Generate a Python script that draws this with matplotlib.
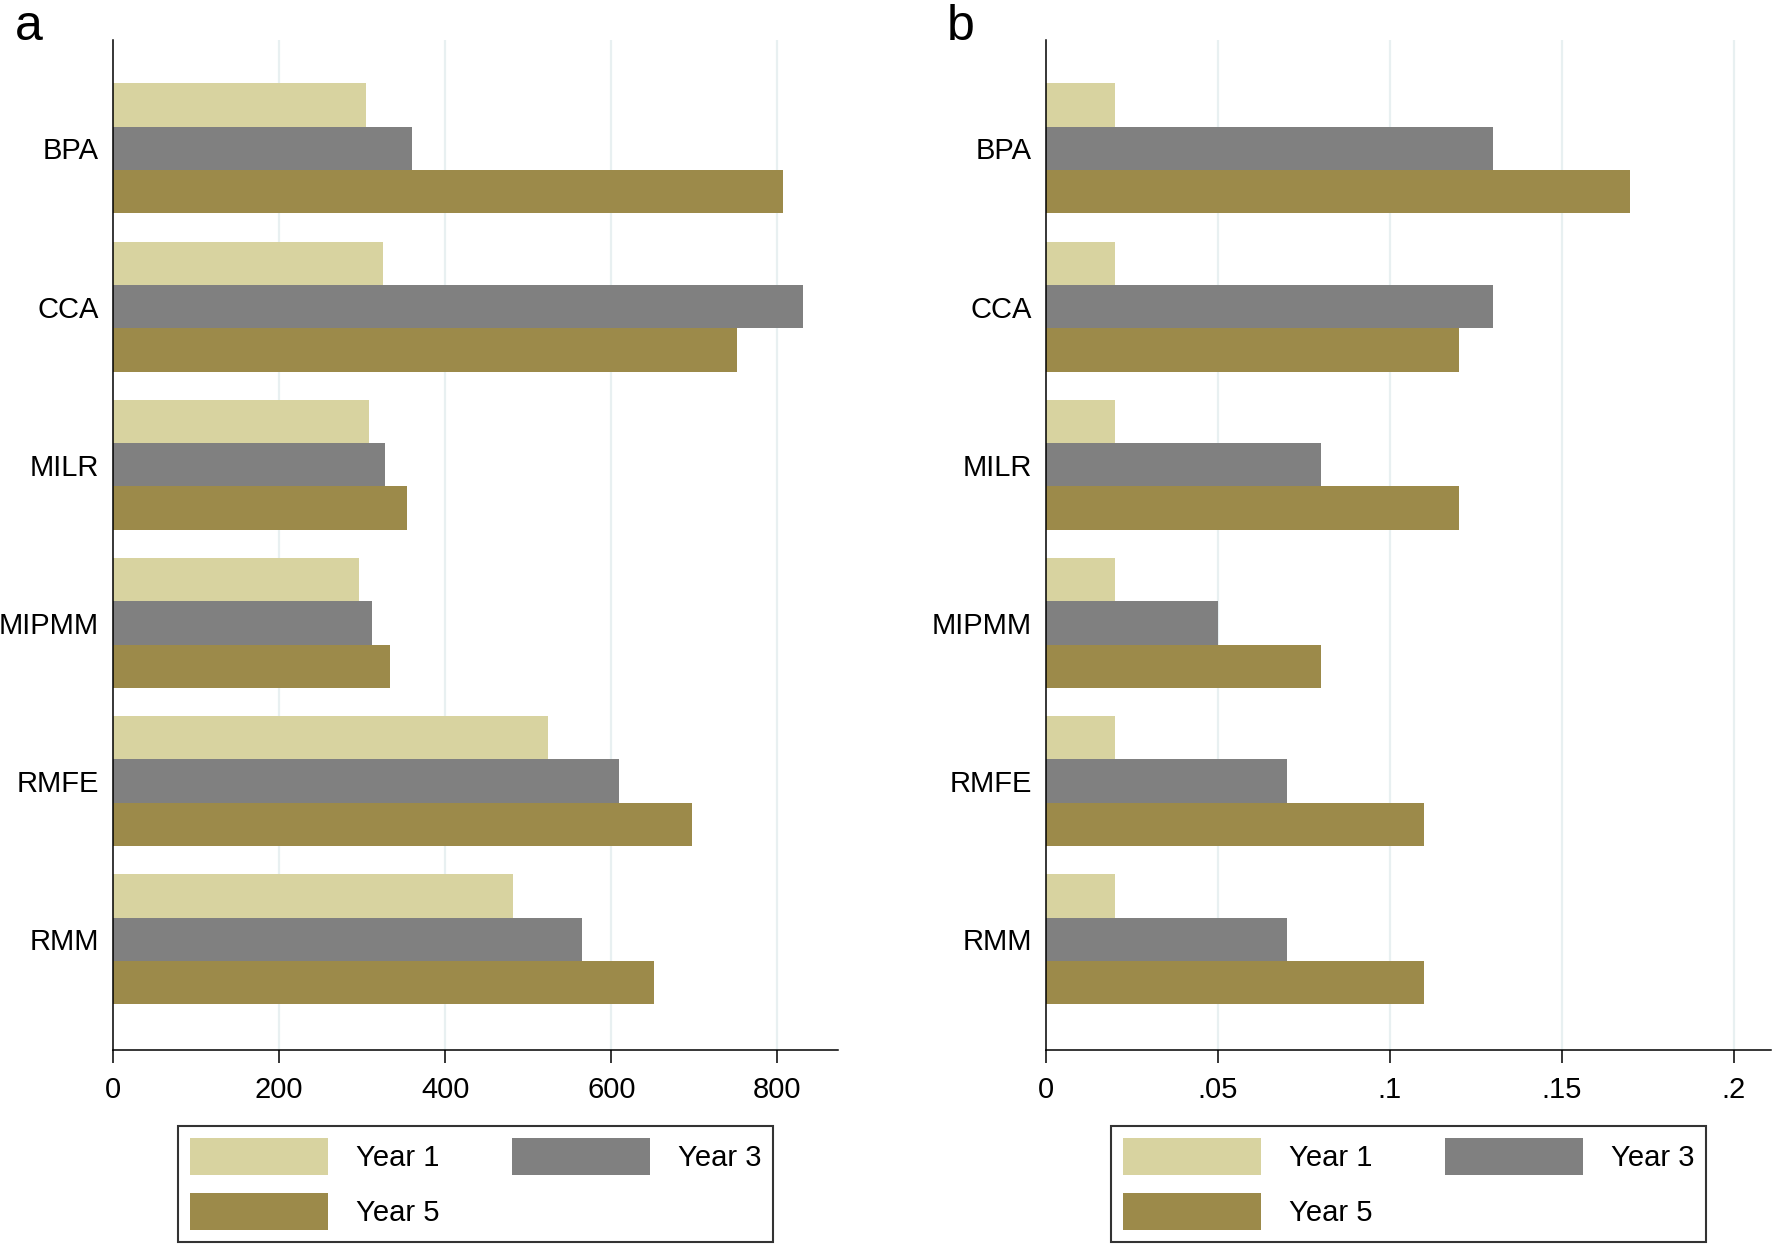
import numpy as np
import matplotlib
matplotlib.use("Agg")
import matplotlib.pyplot as plt

plt.rcParams['font.family'] = ['Liberation Sans', 'DejaVu Sans']

methods = ['BPA', 'CCA', 'MILR', 'MIPMM', 'RMFE', 'RMM']
series = ['Year 1', 'Year 3', 'Year 5']
colors = ['#d8d3a0', '#808080', '#9c8a4a']

# panel a
a_year1 = [305, 325, 308, 296, 524, 482]
a_year3 = [360, 831, 328, 312, 609, 565]
a_year5 = [807, 751, 354, 333, 697, 651]
a_ticks = [0, 200, 400, 600, 800]
a_ticklabels = ['0', '200', '400', '600', '800']

# panel b
b_year1 = [0.02, 0.02, 0.02, 0.02, 0.02, 0.02]
b_year3 = [0.13, 0.13, 0.08, 0.05, 0.07, 0.07]
b_year5 = [0.17, 0.12, 0.12, 0.08, 0.11, 0.11]
b_ticks = [0, 0.05, 0.1, 0.15, 0.2]
b_ticklabels = ['0', '.05', '.1', '.15', '.2']

W, H = 1773, 1249
fig = plt.figure(figsize=(W / 100, H / 100), dpi=100)

def panel(left, vals, ticks, ticklabels, xmax, letter, letter_x):
    ax = fig.add_axes([left / W, 1 - 1050 / H, 725 / W, 1010 / H])
    y = np.arange(len(methods))
    h = 0.274
    bars = []
    for i, (v, c, s) in enumerate(zip(vals, colors, series)):
        bars.append(ax.barh(y + (i - 1) * h, v, height=h, color=c, label=s,
                            zorder=2, linewidth=0))
    ax.set_ylim(5.7, -0.686)
    ax.set_xlim(0, xmax)
    ax.set_yticks(y)
    ax.set_yticklabels(methods, fontsize=21)
    ax.tick_params(axis='y', length=0, pad=10)
    ax.set_xticks(ticks)
    ax.set_xticklabels(ticklabels, fontsize=21)
    ax.tick_params(axis='x', length=9, width=1.1, pad=10, direction='out')
    for t in ticks[1:]:
        ax.axvline(t, color='#e8f0f1', lw=1.6, zorder=1)
    for s in ['top', 'right']:
        ax.spines[s].set_visible(False)
    for s in ['left', 'bottom']:
        ax.spines[s].set_linewidth(1.1)
    cx = (left + 725 / 2) / W
    # column-major fill: Year 1, Year 3 on first row, Year 5 below
    order = [0, 2, 1]
    leg = ax.legend([bars[k] for k in order], [series[k] for k in order],
                    loc='upper center', bbox_to_anchor=(cx, 1 - 1126 / H),
                    bbox_transform=fig.transFigure, ncol=2, fontsize=21,
                    frameon=True, fancybox=False, edgecolor='black',
                    handlelength=4.73, handleheight=1.57, handletextpad=0.95,
                    columnspacing=2.5, labelspacing=0.62, borderpad=0.42,
                    borderaxespad=0)
    leg.get_frame().set_linewidth(1.5)
    fig.text(letter_x / W, 1 - 40 / H, letter, fontsize=36, ha='left', va='baseline')
    return ax

panel(113, [a_year1, a_year3, a_year5], a_ticks, a_ticklabels, 873, 'a', 15)
panel(1046, [b_year1, b_year3, b_year5], b_ticks, b_ticklabels, 0.2109, 'b', 947)

fig.savefig('out.png', dpi=100)
